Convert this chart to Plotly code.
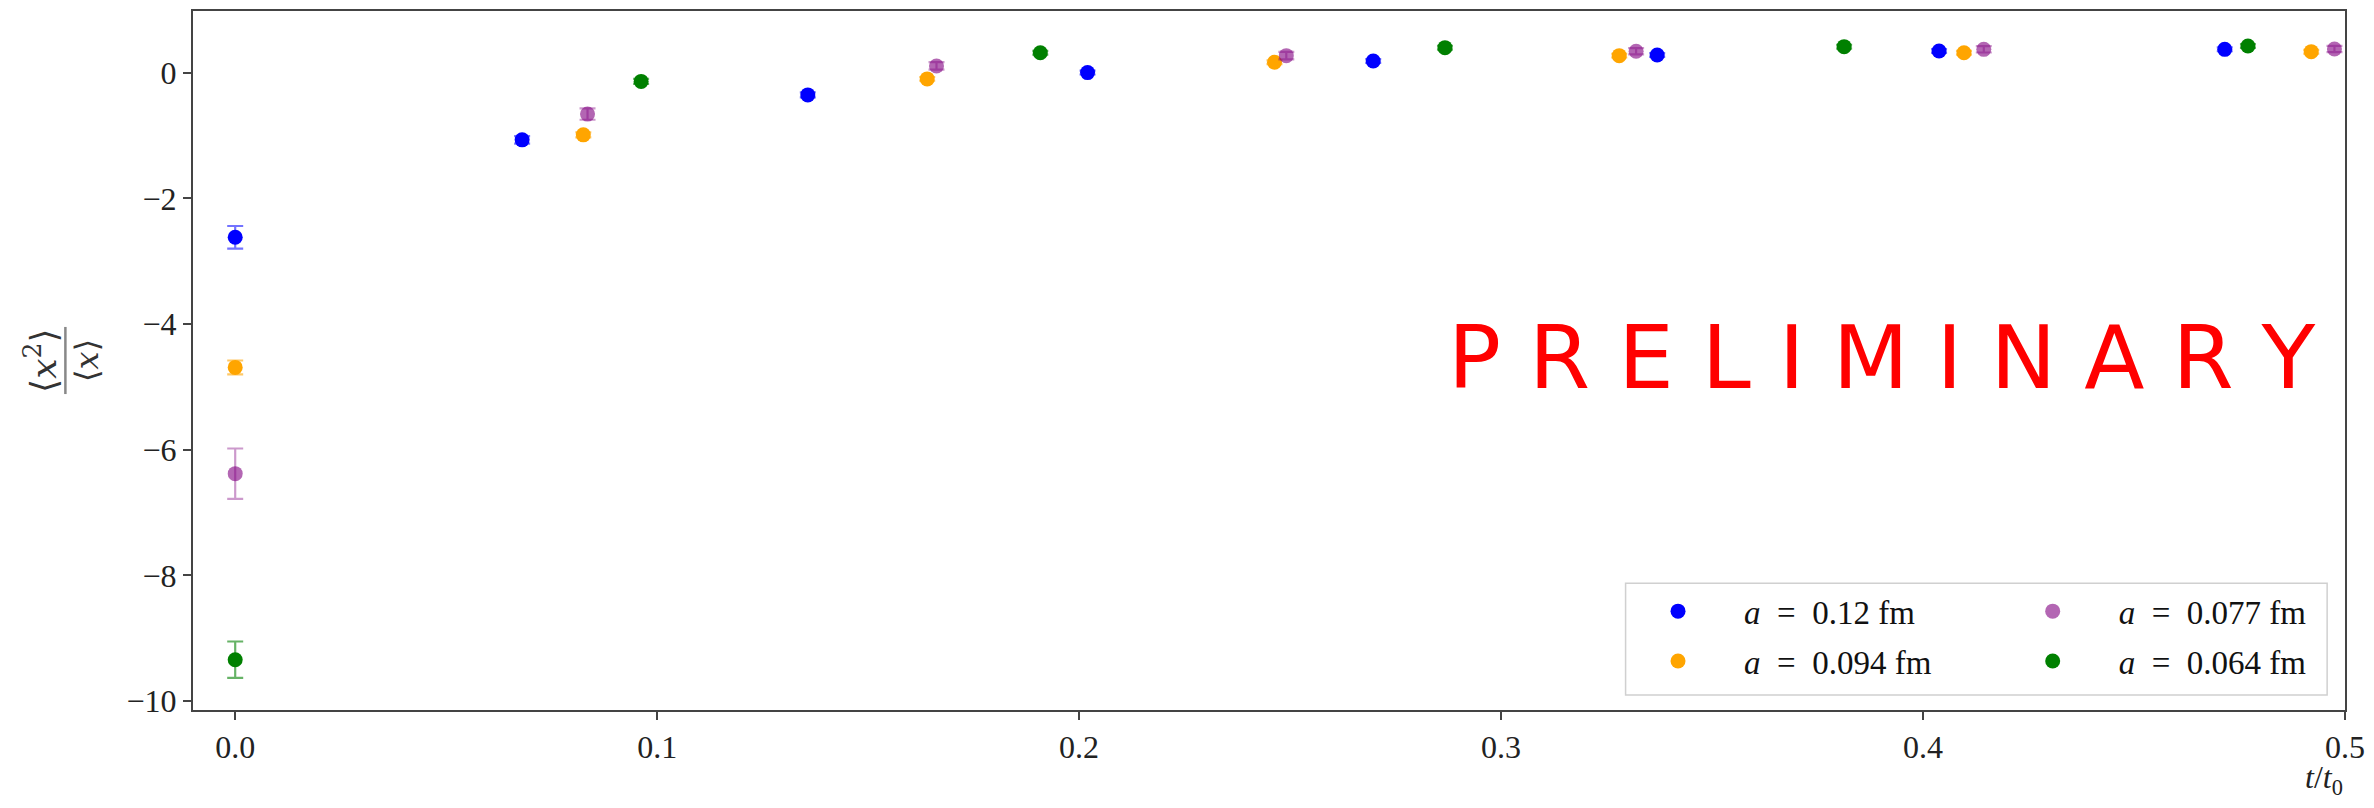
import plotly.graph_objects as go

# flow time t/t0 for each lattice spacing
t_a012 = [0.0, 0.0680, 0.1357, 0.2020, 0.2697, 0.3370, 0.4038, 0.4715]
t_a0094 = [0.0, 0.0825, 0.1640, 0.2463, 0.3280, 0.4097, 0.4920]
t_a0077 = [0.0, 0.0835, 0.1662, 0.2491, 0.3320, 0.4144, 0.4975]
t_a0064 = [0.0, 0.0962, 0.1908, 0.2867, 0.3813, 0.4770]

# ratio <x^2>/<x> and its uncertainty
r_a012 = [-2.62, -1.07, -0.355, 0.00, 0.185, 0.28, 0.344, 0.37]
e_a012 = [0.18, 0.06, 0.04, 0.03, 0.03, 0.03, 0.03, 0.03]
r_a0094 = [-4.69, -0.99, -0.10, 0.164, 0.27, 0.317, 0.333]
e_a0094 = [0.11, 0.04, 0.03, 0.03, 0.03, 0.03, 0.03]
r_a0077 = [-6.38, -0.66, 0.106, 0.27, 0.34, 0.37, 0.376]
e_a0077 = [0.40, 0.09, 0.06, 0.06, 0.05, 0.05, 0.05]
r_a0064 = [-9.34, -0.14, 0.317, 0.397, 0.413, 0.423]
e_a0064 = [0.29, 0.04, 0.03, 0.03, 0.03, 0.03]

labels = ["0.12", "0.094", "0.077", "0.064"]

SERIF = "Liberation Serif, Times New Roman, serif"
AX = "#444444"

series = [
    (t_a012, r_a012, e_a012, labels[0], "rgb(0,0,255)", "rgba(0,0,255,0.55)", "legend"),
    (t_a0094, r_a0094, e_a0094, labels[1], "rgb(255,165,0)", "rgba(255,165,0,0.6)", "legend"),
    (t_a0077, r_a0077, e_a0077, labels[2], "rgba(128,0,128,0.6)", "rgba(128,0,128,0.4)", "legend2"),
    (t_a0064, r_a0064, e_a0064, labels[3], "rgb(0,128,0)", "rgba(0,128,0,0.6)", "legend2"),
]

fig = go.Figure()
for i, (t, r, e, lab, col, ecol, leg) in enumerate(series):
    fig.add_trace(go.Scatter(
        x=t, y=r, mode="markers",
        name="<i>a</i>\u2002=\u2002" + lab + " fm",
        marker=dict(color=col, size=15, line=dict(width=0)),
        error_y=dict(type="data", array=e, visible=True, color=ecol,
                     thickness=2.2, width=8),
        legend=leg, legendgroup="g%d" % i,
    ))

fig.add_annotation(
    text="P R E L I M I N A R Y", xref="paper", yref="paper",
    x=0.785, y=0.504, xanchor="center", yanchor="middle", showarrow=False,
    font=dict(family="DejaVu Sans", size=88, color="#ff0000"),
)

# y-axis title drawn as a stacked fraction
fig.add_annotation(
    text="\u27e8<i>x</i><sup>2</sup>\u27e9", xref="paper", yref="paper",
    x=-0.0593, y=0.5, xanchor="right", yanchor="middle", textangle=-90,
    showarrow=False, font=dict(family="DejaVu Serif", size=36, color="#333"),
)
fig.add_annotation(
    text="\u27e8<i>x</i>\u27e9", xref="paper", yref="paper",
    x=-0.0593, y=0.5, xanchor="left", yanchor="middle", textangle=-90,
    showarrow=False, font=dict(family="DejaVu Serif", size=32, color="#333"),
)
fig.add_shape(type="line", xref="paper", yref="paper",
              x0=-0.0593, x1=-0.0593, y0=0.452, y1=0.548,
              line=dict(color="#888", width=2.5))

fig.add_annotation(
    text="<i>t</i>/<i>t</i><sub>0</sub>", xref="paper", yref="paper",
    x=1.0, y=-0.132, xanchor="right", yanchor="bottom", showarrow=False,
    font=dict(family=SERIF, size=32, color="#222"),
)

# legend frame
fig.add_shape(type="rect", xref="paper", yref="paper",
              x0=0.6657, x1=0.9917, y0=0.0214, y1=0.1812,
              line=dict(color="#d0d0d0", width=1.5),
              fillcolor="rgba(255,255,255,0.8)", layer="above")

legend_common = dict(
    font=dict(family=SERIF, size=33, color="#111"),
    bgcolor="rgba(0,0,0,0)", borderwidth=0, itemwidth=122,
    tracegroupgap=4, xanchor="left", yanchor="top", orientation="v",
)

fig.update_layout(
    width=2374, height=808,
    margin=dict(l=193, r=21, t=9, b=98),
    paper_bgcolor="white", plot_bgcolor="white",
    showlegend=True,
    legend=dict(x=0.6594, y=0.1814, **legend_common),
    legend2=dict(x=0.8335, y=0.1814, **legend_common),
    xaxis=dict(
        range=[-0.01, 0.5], tickvals=[0, 0.1, 0.2, 0.3, 0.4, 0.5],
        tickformat=".1f", showgrid=False, zeroline=False,
        showline=True, mirror=True, linecolor=AX, linewidth=2,
        ticks="outside", ticklen=8, tickwidth=1.5, tickcolor=AX,
        tickfont=dict(family=SERIF, size=32, color="#222"),
    ),
    yaxis=dict(
        range=[-10.14, 0.98], tickvals=[-10, -8, -6, -4, -2, 0],
        showgrid=False, zeroline=False,
        showline=True, mirror=True, linecolor=AX, linewidth=2,
        ticks="outside", ticklen=8, tickwidth=1.5, tickcolor=AX,
        tickfont=dict(family=SERIF, size=32, color="#222"),
    ),
)

fig.write_html("out.html")
